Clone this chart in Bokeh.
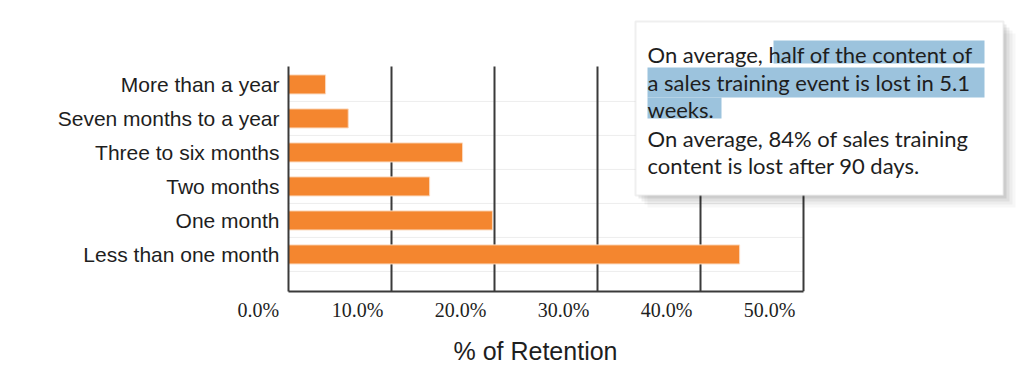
from bokeh.plotting import figure
from bokeh.models import (Range1d, FixedTicker, Label, BoxAnnotation,
                          ColumnDataSource, LinearAxis, Title)
from bokeh.embed import file_html
from bokeh.resources import INLINE

# ---------------- data ----------------
categories = ["Less than one month", "One month", "Two months",
              "Three to six months", "Seven months to a year", "More than a year"]
retention = [43.8, 19.8, 13.7, 16.9, 5.8, 3.6]
x_ticks = [0, 10, 20, 30, 40, 50]
x_tick_labels = ["0.0%", "10.0%", "20.0%", "30.0%", "40.0%", "50.0%"]
x_title = "% of Retention"
callout_lines = [
    "On average, half of the content of",
    "a sales training event is lost in 5.1",
    "weeks.",
    "On average, 84% of sales training",
    "content is lost after 90 days.",
]

# ---------------- geometry ----------------
W, H = 1024, 387
FRAME_LEFT, FRAME_BOTTOM = 288, 291      # canvas px; frame spans to the right/top edges
PX_PER_X = 10.3                          # px per 1 %
PX_PER_Y = 34.0                          # px per category
Y_LO = -1.09
X_LO = 0.0
X_HI = X_LO + (W - FRAME_LEFT) / PX_PER_X
Y_HI = Y_LO + FRAME_BOTTOM / PX_PER_Y
CHART_TOP = Y_LO + (FRAME_BOTTOM - 66) / PX_PER_Y   # top of the drawn chart area
LABEL_SHIFT = 34 / PX_PER_X                          # tick labels sit left of their lines


def dx(px):
    return X_LO + (px - FRAME_LEFT) / PX_PER_X


def dy(py):
    return Y_LO + (FRAME_BOTTOM - py) / PX_PER_Y


p = figure(width=W, height=H, output_backend="svg", toolbar_location=None,
           x_range=Range1d(X_LO, X_HI), y_range=Range1d(Y_LO, Y_HI),
           frame_width=W - FRAME_LEFT, frame_height=FRAME_BOTTOM,
           min_border_left=FRAME_LEFT, min_border_top=0, min_border_right=0,
           min_border_bottom=H - FRAME_BOTTOM)
p.outline_line_color = None
p.background_fill_color = "white"
p.border_fill_color = "white"
p.xgrid.visible = False
p.ygrid.visible = False

ypos = list(range(len(categories)))

# faint separators between rows
p.segment(x0=x_ticks[0], x1=x_ticks[-1], y0=[i - 0.5 for i in ypos],
          y1=[i - 0.5 for i in ypos], line_color="#ededed", line_width=1)
# vertical grid lines
p.segment(x0=x_ticks[1:], x1=x_ticks[1:], y0=Y_LO, y1=CHART_TOP,
          line_color="#3a3a3a", line_width=2)

src = ColumnDataSource(dict(y=ypos, right=retention, cat=categories))
p.hbar(y="y", right="right", left=0, height=0.56, source=src,
       fill_color="#F4862F", line_color="#FBD9BE", line_width=1)

# main x axis: line only
p.xaxis.bounds = (x_ticks[0], x_ticks[-1])
p.xaxis.ticker = FixedTicker(ticks=x_ticks)
p.xaxis.major_label_overrides = {t: "" for t in x_ticks}
p.xaxis.major_tick_line_color = None
p.xaxis.minor_tick_line_color = None
p.xaxis.major_tick_in = 0
p.xaxis.major_tick_out = 0
p.xaxis.major_label_standoff = 0
p.xaxis.major_label_text_font_size = "1px"
p.xaxis.axis_line_color = "#3a3a3a"
p.xaxis.axis_line_width = 2

# first tick label lies left of the frame: placed as a title in the bottom panel
p.add_layout(Title(text=x_tick_labels[0], align="left", offset=-51,
                   vertical_align="bottom", standoff=11,
                   text_font="Liberation Serif", text_font_size="20px",
                   text_font_style="normal", text_color="#1e1e1e"), "below")

# label axis (labels shifted left, as in the original)
p.extra_x_ranges = {"lab": Range1d(X_LO + LABEL_SHIFT, X_HI + LABEL_SHIFT)}
lab_axis = LinearAxis(x_range_name="lab", ticker=FixedTicker(ticks=x_ticks[1:]),
                      major_label_overrides={t: s for t, s in zip(x_ticks[1:], x_tick_labels[1:])},
                      axis_line_color=None, major_tick_line_color=None,
                      minor_tick_line_color=None, major_tick_in=0, major_tick_out=0,
                      major_label_standoff=-28,
                      major_label_text_font="Liberation Serif",
                      major_label_text_font_size="20px",
                      major_label_text_color="#1e1e1e")
p.add_layout(lab_axis, "below")

p.add_layout(Title(text=x_title, align="left", offset=165, vertical_align="bottom",
                   standoff=16, text_font="Liberation Sans", text_font_size="25px",
                   text_font_style="normal", text_color="#1e1e1e"), "below")

# y axis
p.yaxis.bounds = (Y_LO, CHART_TOP)
p.yaxis.ticker = FixedTicker(ticks=ypos)
p.yaxis.major_label_overrides = {i: c for i, c in zip(ypos, categories)}
p.yaxis.major_tick_line_color = None
p.yaxis.minor_tick_line_color = None
p.yaxis.axis_line_color = "#3a3a3a"
p.yaxis.axis_line_width = 2
p.yaxis.major_label_text_font = "Liberation Sans"
p.yaxis.major_label_text_font_size = "21px"
p.yaxis.major_label_text_color = "#1e1e1e"
p.yaxis.major_label_standoff = 3

# callout box with shadow
bl, br, bt, bb = 635, 1003, 21, 195
for off, a in [(12, 0.03), (9, 0.04), (6, 0.06), (3, 0.08)]:
    p.add_layout(BoxAnnotation(left=dx(bl + off), right=dx(br + off),
                               top=dy(bt + off), bottom=dy(bb + off),
                               fill_color="black", fill_alpha=a, line_color=None))
p.add_layout(BoxAnnotation(left=dx(bl), right=dx(br), top=dy(bt), bottom=dy(bb),
                           fill_color="white", fill_alpha=1,
                           line_color="#c9c9c9", line_width=2))
# highlight
for (l, r, t, b) in [(773, 984, 40, 63), (647, 984, 67, 97), (647, 721, 97, 118)]:
    p.add_layout(BoxAnnotation(left=dx(l), right=dx(r), top=dy(t), bottom=dy(b),
                               fill_color="#9CC3DD", fill_alpha=1, line_color=None))

baselines = [54, 82, 109, 138, 165]
for txt, b in zip(callout_lines, baselines):
    p.add_layout(Label(x=dx(647), y=dy(b), text=txt, text_align="left",
                       text_baseline="alphabetic", text_font="Lato",
                       text_font_size="22px", text_color="#1e1e1e"))

open("out.html", "w").write(file_html(p, INLINE))
